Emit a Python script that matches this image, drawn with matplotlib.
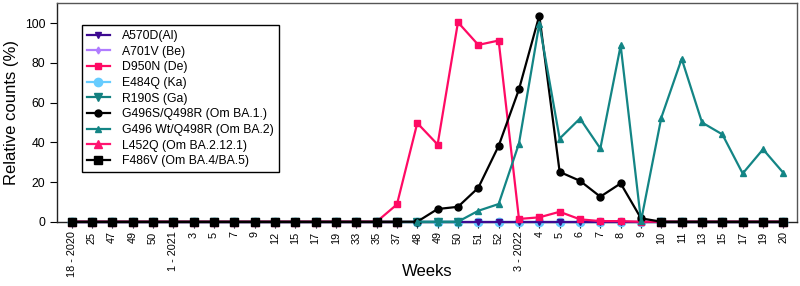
import numpy as np
import matplotlib
matplotlib.use("Agg")
import matplotlib.pyplot as plt

plt.rcParams["font.family"] = ["Liberation Sans", "DejaVu Sans"]

nan = np.nan

# ---------------------------------------------------------------------------
# Data
# ---------------------------------------------------------------------------
weeks = ["18 - 2020", "25", "47", "49", "50", "1 - 2021", "3", "5", "7", "9",
         "12", "15", "17", "19", "33", "35", "37", "48", "49", "50", "51", "52",
         "3 - 2022", "4", "5", "6", "7", "8", "9", "10", "11", "13", "15", "17",
         "19", "20"]

a570d = [0] * 36
a701v = [0] * 17 + [nan] * 12 + [0] * 7
d950n = [0] * 16 + [8.7, 49.7, 38.9, 100.5, 89.1, 91.3, 1.4, 2.2, 5.0, 1.2,
                    0.3, 0.3, 0.0] + [0] * 7
e484q = [0] * 36
r190s = [0] * 20 + [nan] * 9 + [0] * 7
g496s = [0] * 18 + [6.4, 7.5, 17.1, 38.2, 66.7, 103.9, 25.1, 20.6, 12.6, 19.3,
                    1.7] + [0] * 7
g496wt = [nan] * 17 + [0] * 3 + [5.5, 8.9, 39.4, 99.7, 41.9, 52.0, 36.9, 88.8,
                                 0.3, 52.5, 82.1, 50.0, 44.0, 24.3, 36.5, 24.6]
l452q = [0] * 17 + [nan] * 12 + [0] * 7
f486v = [0] * 17 + [nan] * 12 + [0] * 7

# label, values, color, marker, markersize, zorder
series = [
    ("A570D(Al)", a570d, "#3d0a91", "v", 4, 4),
    ("A701V (Be)", a701v, "#b07cff", "d", 3.5, 4.1),
    ("D950N (De)", d950n, "#ff0a64", "s", 5, 4.2),
    ("E484Q (Ka)", e484q, "#66ccff", "o", 6, 3),
    ("R190S (Ga)", r190s, "#138080", "v", 6, 4.3),
    ("G496S/Q498R (Om BA.1.)", g496s, "#000000", "o", 5, 4.4),
    ("G496 Wt/Q498R (Om BA.2)", g496wt, "#138585", "^", 4, 4.5),
    ("L452Q (Om BA.2.12.1)", l452q, "#ff1470", "^", 6, 4.6),
    ("F486V (Om BA.4/BA.5)", f486v, "#000000", "s", 5.5, 4.7),
]

x = np.arange(len(weeks))

fig, ax = plt.subplots(figsize=(8.0, 2.86), dpi=100)
fig.subplots_adjust(left=0.0716, right=0.996, top=0.988, bottom=0.2248)

for label, vals, color, marker, ms, z in series:
    ax.plot(x, vals, color=color, marker=marker, markersize=ms, linewidth=1.6,
            label=label, zorder=z, clip_on=False)

ax.set_xlim(-0.7, 35.66)
ax.set_ylim(0, 110)
ax.set_yticks([0, 20, 40, 60, 80, 100])
ax.set_xticks(x)
ax.set_xticklabels(weeks, rotation=90, fontsize=7.8)
ax.tick_params(axis="y", labelsize=8.8, length=5, width=0.8, direction="out")
ax.tick_params(axis="x", length=4.5, width=0.8, direction="out", pad=2.5)

for side in ["top", "right"]:
    ax.spines[side].set_color("#555555")
for side in ["left", "bottom"]:
    ax.spines[side].set_color("#222222")
for s in ax.spines.values():
    s.set_linewidth(1.0)

# x label sits beside the short tick labels, as in the original
ax.set_xlabel("Weeks", fontsize=12, va="center")
ax.xaxis.set_label_coords(0.5, -0.23)
ax.set_ylabel("Relative counts (%)", fontsize=12, labelpad=4)

leg = ax.legend(loc="upper left", bbox_to_anchor=(0.033, 0.9007),
                borderaxespad=0, fontsize=8.8, fancybox=False,
                edgecolor="black", framealpha=1, labelspacing=0.3,
                handlelength=1.9, handletextpad=1.0, borderpad=0.4)
leg.get_frame().set_linewidth(1.0)

fig.savefig("out.png", dpi=100)
